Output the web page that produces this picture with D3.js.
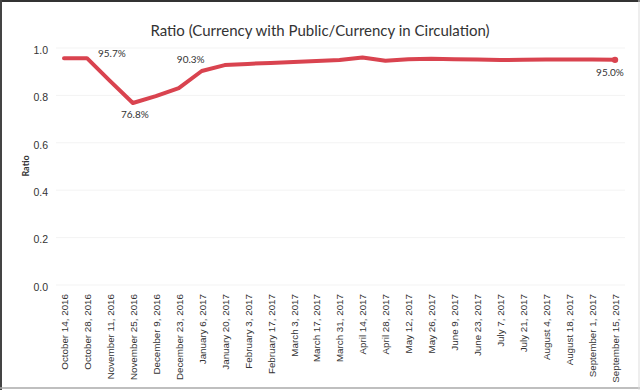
<!DOCTYPE html>
<html>
<head>
<meta charset="utf-8">
<style>
  body { margin: 0; background: #fff; }
  svg { display: block; font-family: Lato, "Open Sans", sans-serif; }
  .axis text { fill: #333; }
  .axis path, .axis line { display: none; }
</style>
<title>Ratio</title>
</head>
<body>
<script src="https://cdn.jsdelivr.net/npm/d3@7"></script>
<script>
var dates = ["October 14, 2016", "October 28, 2016", "November 11, 2016", "November 25, 2016",
  "December 9, 2016", "December 23, 2016", "January 6, 2017", "January 20, 2017",
  "February 3, 2017", "February 17, 2017", "March 3, 2017", "March 17, 2017",
  "March 31, 2017", "April 14, 2017", "April 28, 2017", "May 12, 2017", "May 26, 2017",
  "June 9, 2017", "June 23, 2017", "July 7, 2017", "July 21, 2017", "August 4, 2017",
  "August 18, 2017", "September 1, 2017", "September 15, 2017"];
var ratio = [0.957, 0.957, 0.861, 0.768, 0.797, 0.831, 0.903, 0.928, 0.933, 0.937,
  0.941, 0.945, 0.949, 0.960, 0.946, 0.953, 0.955, 0.953, 0.951, 0.949, 0.950,
  0.951, 0.951, 0.952, 0.950];
var yTicks = [0, 0.2, 0.4, 0.6, 0.8, 1.0];
// labelled points: index, placement
var labelled = [
  {i: 1, dx: 11, dy: -1, anchor: "start"},
  {i: 3, dx: 2, dy: 15, anchor: "middle"},
  {i: 6, dx: -11, dy: -8, anchor: "middle"},
  {i: 24, dx: -5, dy: 16, anchor: "middle"}
];

var W = 640, H = 390;
var svg = d3.select("body").append("svg").attr("width", W).attr("height", H);

var x = d3.scalePoint().domain(dates).range([64, 615]);
var y = d3.scaleLinear().domain([0, 1]).range([285, 48]);

// frame
svg.append("line").attr("x1", 0).attr("x2", W).attr("y1", 1).attr("y2", 1).attr("stroke", "#333").attr("stroke-width", 2);
svg.append("line").attr("x1", 1).attr("x2", 1).attr("y1", 0).attr("y2", H).attr("stroke", "#444").attr("stroke-width", 2);
svg.append("line").attr("x1", 0).attr("x2", W).attr("y1", 388).attr("y2", 388).attr("stroke", "#aaa").attr("stroke-width", 1.5);
svg.append("line").attr("x1", 639).attr("x2", 639).attr("y1", 0).attr("y2", H).attr("stroke", "#ddd").attr("stroke-width", 1);

// title
svg.append("text").attr("x", 320).attr("y", 36).attr("text-anchor", "middle")
  .attr("font-size", 15).attr("fill", "#333")
  .text("Ratio (Currency with Public/Currency in Circulation)");

// faint gridlines
svg.append("g").selectAll("line").data(yTicks).enter().append("line")
  .attr("x1", 56).attr("x2", 625)
  .attr("y1", function(d){ return y(d); }).attr("y2", function(d){ return y(d); })
  .attr("stroke", "#f3f3f3");

// y axis
var gy = svg.append("g").attr("class", "axis").attr("transform", "translate(51,2)")
  .call(d3.axisLeft(y).tickValues(yTicks).tickFormat(d3.format(".1f")).tickSize(0).tickPadding(3));
gy.selectAll("text").attr("font-size", 10.5);

svg.append("text").attr("transform", "translate(29,166) rotate(-90)")
  .attr("text-anchor", "middle").attr("font-size", 9).attr("font-weight", "bold").attr("fill", "#333")
  .text("Ratio");

// x axis
var gx = svg.append("g").attr("class", "axis").attr("transform", "translate(0,290)")
  .call(d3.axisBottom(x).tickSize(0));
gx.selectAll("text")
  .attr("font-size", 9.8)
  .attr("y", 0).attr("x", -4).attr("dy", "0.35em")
  .attr("transform", "rotate(-90)")
  .style("text-anchor", "end");

// line
var line = d3.line().x(function(d, i){ return x(dates[i]); }).y(function(d){ return y(d); });
svg.append("path").datum(ratio).attr("d", line)
  .attr("fill", "none").attr("stroke", "#d9434f").attr("stroke-width", 4)
  .attr("stroke-linejoin", "round").attr("stroke-linecap", "round");

svg.append("circle").attr("cx", x(dates[24])).attr("cy", y(ratio[24])).attr("r", 3.2).attr("fill", "#d9434f");

// labels
svg.append("g").selectAll("text").data(labelled).enter().append("text")
  .attr("x", function(d){ return x(dates[d.i]) + d.dx; })
  .attr("y", function(d){ return y(ratio[d.i]) + d.dy; })
  .attr("text-anchor", function(d){ return d.anchor; })
  .attr("font-size", 10).attr("fill", "#333")
  .text(function(d){ return d3.format(".1%")(ratio[d.i]); });
</script>
</body>
</html>
